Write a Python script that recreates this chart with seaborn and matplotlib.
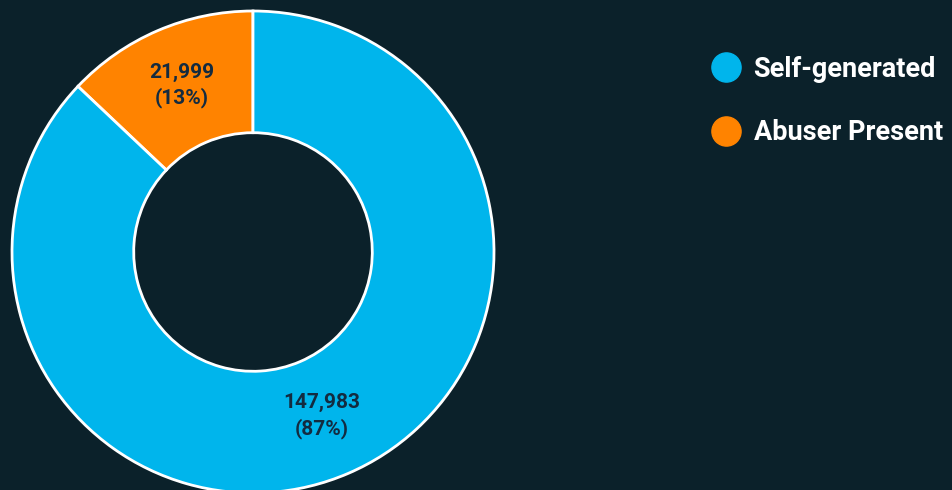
import matplotlib
matplotlib.use("Agg")
import matplotlib.pyplot as plt
from matplotlib.lines import Line2D
import seaborn as sns

categories = ["Abuser Present", "Self-generated"]
counts = [21999, 147983]
percents = [13, 87]
colors = ["#ff8300", "#00b5ec"]
legend_order = ["Self-generated", "Abuser Present"]

BG = "#0b212a"
LABEL_COLOR = "#132b40"

sns.set_theme(style="white")
plt.rcParams["font.family"] = ["Roboto", "DejaVu Sans"]

fig = plt.figure(figsize=(9.52, 4.90), dpi=100, facecolor=BG)
# ring centred at (253, 252) px with a 241 px outer radius
ax = fig.add_axes([12 / 952, -3 / 490, 482 / 952, 482 / 490])
ax.set_facecolor(BG)

wedges, _ = ax.pie(
    counts,
    colors=colors,
    startangle=90,
    counterclock=True,
    radius=1.0,
    wedgeprops=dict(width=0.505, edgecolor="white", linewidth=2),
)
for w in wedges:
    w.set_clip_on(False)
ax.set_xlim(-1, 1)
ax.set_ylim(-1, 1)
ax.set_aspect("equal")
ax.axis("off")

# value labels placed at the middle of each ring segment
label_pos = {"Abuser Present": (-0.295, 0.69), "Self-generated": (0.286, -0.68)}
for cat, n, p in zip(categories, counts, percents):
    x, y = label_pos[cat]
    ax.text(x, y, f"{n:,}\n({p}%)", ha="center", va="center",
            fontsize=15, fontweight="bold", color=LABEL_COLOR,
            linespacing=1.35)

color_of = dict(zip(categories, colors))
handles = [Line2D([0], [0], marker="o", linestyle="none", markersize=21,
                  markerfacecolor=color_of[c], markeredgecolor=color_of[c])
           for c in legend_order]
leg = fig.legend(handles, legend_order, loc="upper left",
                 bbox_to_anchor=(698 / 952, 1 - 42 / 490),
                 frameon=False, fontsize=19.5, labelspacing=1.35,
                 handletextpad=0.45, borderpad=0, handlelength=1.1)
for t in leg.get_texts():
    t.set_color("white")
    t.set_fontweight("bold")

fig.savefig("out.png", dpi=100, facecolor=BG)
